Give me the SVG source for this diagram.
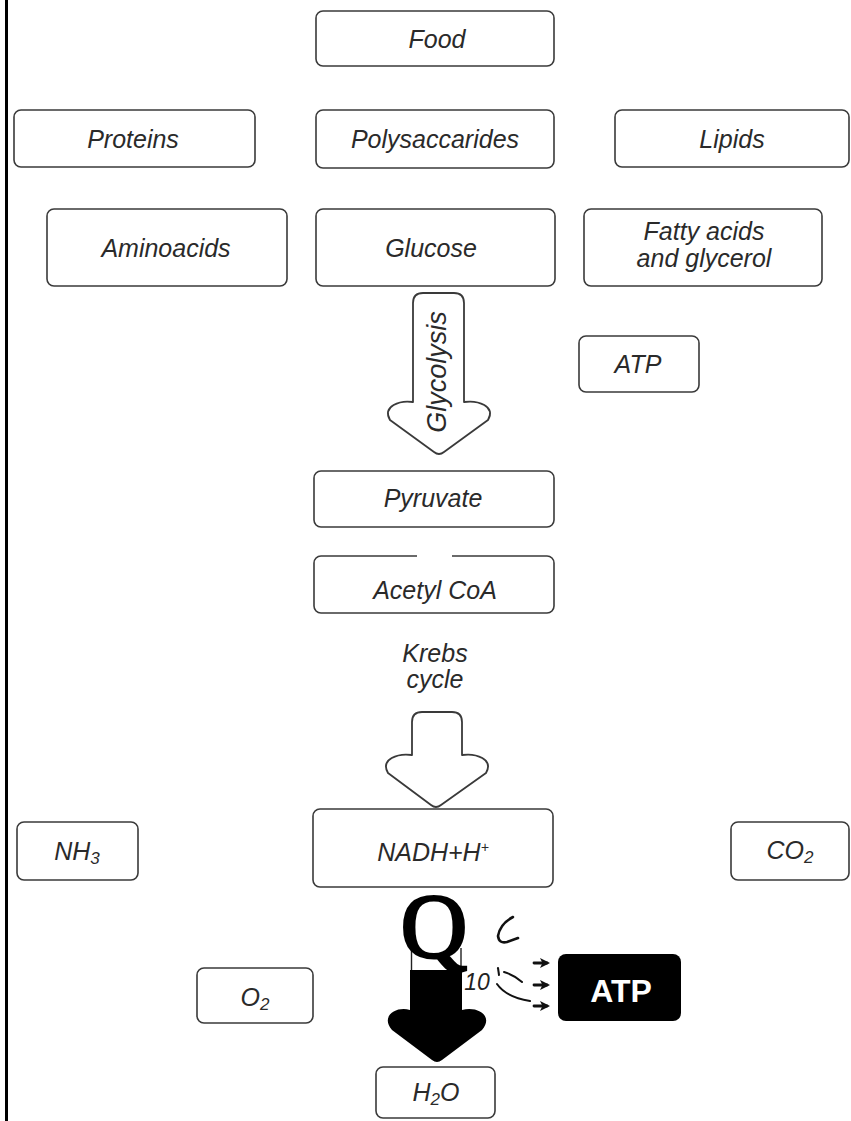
<svg xmlns="http://www.w3.org/2000/svg" width="851" height="1121" viewBox="0 0 851 1121">
<style>
.box{fill:#fff;stroke:#3a3a3a;stroke-width:1.6}
.t{font-family:"Liberation Sans",Arial,sans-serif;font-style:italic;font-size:25px;fill:#2a2a2a;text-anchor:middle}
.sub{font-size:17px}
.hollow{fill:#fff;stroke:#3a3a3a;stroke-width:1.8;stroke-linejoin:round}
.thin{fill:none;stroke:#111;stroke-width:2;stroke-linecap:round}
.sa{fill:none;stroke:#111;stroke-width:2.8;stroke-linecap:round}
</style>
<defs>
<marker id="ah" viewBox="0 0 10 10" refX="7" refY="5" markerWidth="3.6" markerHeight="3.6" orient="auto" markerUnits="strokeWidth">
<path d="M0,0 L10,5 L0,10 L2.5,5 z" fill="#111"/>
</marker>
</defs>
<rect width="851" height="1121" fill="#fff"/>
<rect x="5" y="0" width="3" height="1121" fill="#000"/>

<g id="food"><rect class="box" x="316" y="11" width="238" height="55" rx="7"/><text class="t" x="437" y="48">Food</text></g>
<g id="proteins"><rect class="box" x="14" y="110" width="241" height="57" rx="7"/><text class="t" x="133" y="148">Proteins</text></g>
<g id="polysaccarides"><rect class="box" x="316" y="110" width="238" height="58" rx="7"/><text class="t" x="435" y="148">Polysaccarides</text></g>
<g id="lipids"><rect class="box" x="615" y="110" width="234" height="57" rx="7"/><text class="t" x="732" y="148">Lipids</text></g>
<g id="aminoacids"><rect class="box" x="47" y="209" width="240" height="77" rx="7"/><text class="t" x="166" y="257">Aminoacids</text></g>
<g id="glucose"><rect class="box" x="316" y="209" width="239" height="77" rx="7"/><text class="t" x="431" y="257">Glucose</text></g>
<g id="fatty"><rect class="box" x="584" y="209" width="238" height="77" rx="7"/><text class="t" x="704" y="240">Fatty acids</text><text class="t" x="704" y="267">and glycerol</text></g>
<g id="atp-small"><rect class="box" x="579" y="336" width="120" height="56" rx="7"/><text class="t" x="638" y="373">ATP</text></g>
<g id="pyruvate"><rect class="box" x="314" y="471" width="240" height="56" rx="7"/><text class="t" x="433" y="507">Pyruvate</text></g>
<g id="acetylcoa"><rect class="box" x="314" y="556" width="240" height="57" rx="7"/><line x1="417" y1="556" x2="452" y2="556" stroke="#fff" stroke-width="3"/><text class="t" x="435" y="599">Acetyl CoA</text></g>
<g id="nadh"><rect class="box" x="313" y="809" width="240" height="78" rx="7"/><text class="t" x="433" y="861">NADH+H<tspan font-size="14" dy="-9">+</tspan></text></g>
<g id="nh3"><rect class="box" x="17" y="822" width="121" height="58" rx="7"/><text class="t" x="77" y="860">NH<tspan class="sub" dy="4">3</tspan></text></g>
<g id="co2"><rect class="box" x="731" y="822" width="118" height="58" rx="7"/><text class="t" x="790" y="859">CO<tspan class="sub" dy="4">2</tspan></text></g>
<g id="o2"><rect class="box" x="197" y="968" width="116" height="55" rx="7"/><text class="t" x="255" y="1006">O<tspan class="sub" dy="4">2</tspan></text></g>
<g id="h2o"><rect class="box" x="376" y="1067" width="119" height="51" rx="7"/><text class="t" x="436" y="1101">H<tspan class="sub" dy="4">2</tspan><tspan dy="-4">O</tspan></text></g>
<g id="atp-big"><rect x="558" y="954" width="123" height="67" rx="8" fill="#000"/><text x="621" y="1002" font-family="Liberation Sans,Arial,sans-serif" font-weight="bold" font-size="32" fill="#fff" text-anchor="middle">ATP</text></g>

<g id="connectors">
<path class="hollow" d="M413,303 Q413,293 423,293 L454,293 Q464,293 464,303 L464,402 C478,400 496,406 488,420 L444,452 Q439,456 434,452 L390,420 C382,406 400,400 413,402 Z"/>
<text class="t" transform="translate(446,372) rotate(-90)" style="font-size:27px">Glycolysis</text>
<text class="t" x="435" y="662">Krebs</text>
<text class="t" x="435" y="688">cycle</text>
<path class="hollow" d="M412,722 Q412,712 422,712 L452,712 Q462,712 462,722 L462,755 C476,753 494,759 486,773 L441,805 Q436,809 431,805 L388,773 C380,759 398,753 412,755 Z"/>
<line x1="411.5" y1="948" x2="411.5" y2="972" stroke="#222" stroke-width="1.4"/>
<line x1="461" y1="948" x2="461" y2="972" stroke="#222" stroke-width="1.4"/>
<path d="M410,970 L462,970 L462,1010 C478,1006 494,1016 482,1030 L442,1060 Q437,1064 432,1060 L392,1030 C380,1016 396,1006 410,1010 Z" fill="#000"/>
<text x="434" y="957" font-family="Liberation Serif,Times New Roman,serif" font-size="92" fill="#000" stroke="#000" stroke-width="3" text-anchor="middle">Q</text>
<text x="477" y="990" font-family="Liberation Sans,Arial,sans-serif" font-style="italic" font-size="23" fill="#222" text-anchor="middle">10</text>
<path class="thin" style="stroke-width:2.6" d="M513,917 Q500,924 498,936 Q499,944 507,942 L518,938"/>
<path class="thin" d="M498,968 L499,975"/>
<path class="thin" d="M504,972 Q514,975 522,982"/>
<path class="thin" d="M497,984 Q506,997 530,1001"/>
<line class="sa" x1="534" y1="963" x2="547" y2="963" marker-end="url(#ah)"/>
<line class="sa" x1="534" y1="985" x2="547" y2="985" marker-end="url(#ah)"/>
<line class="sa" x1="534" y1="1006" x2="547" y2="1006" marker-end="url(#ah)"/>
</g>
</svg>
